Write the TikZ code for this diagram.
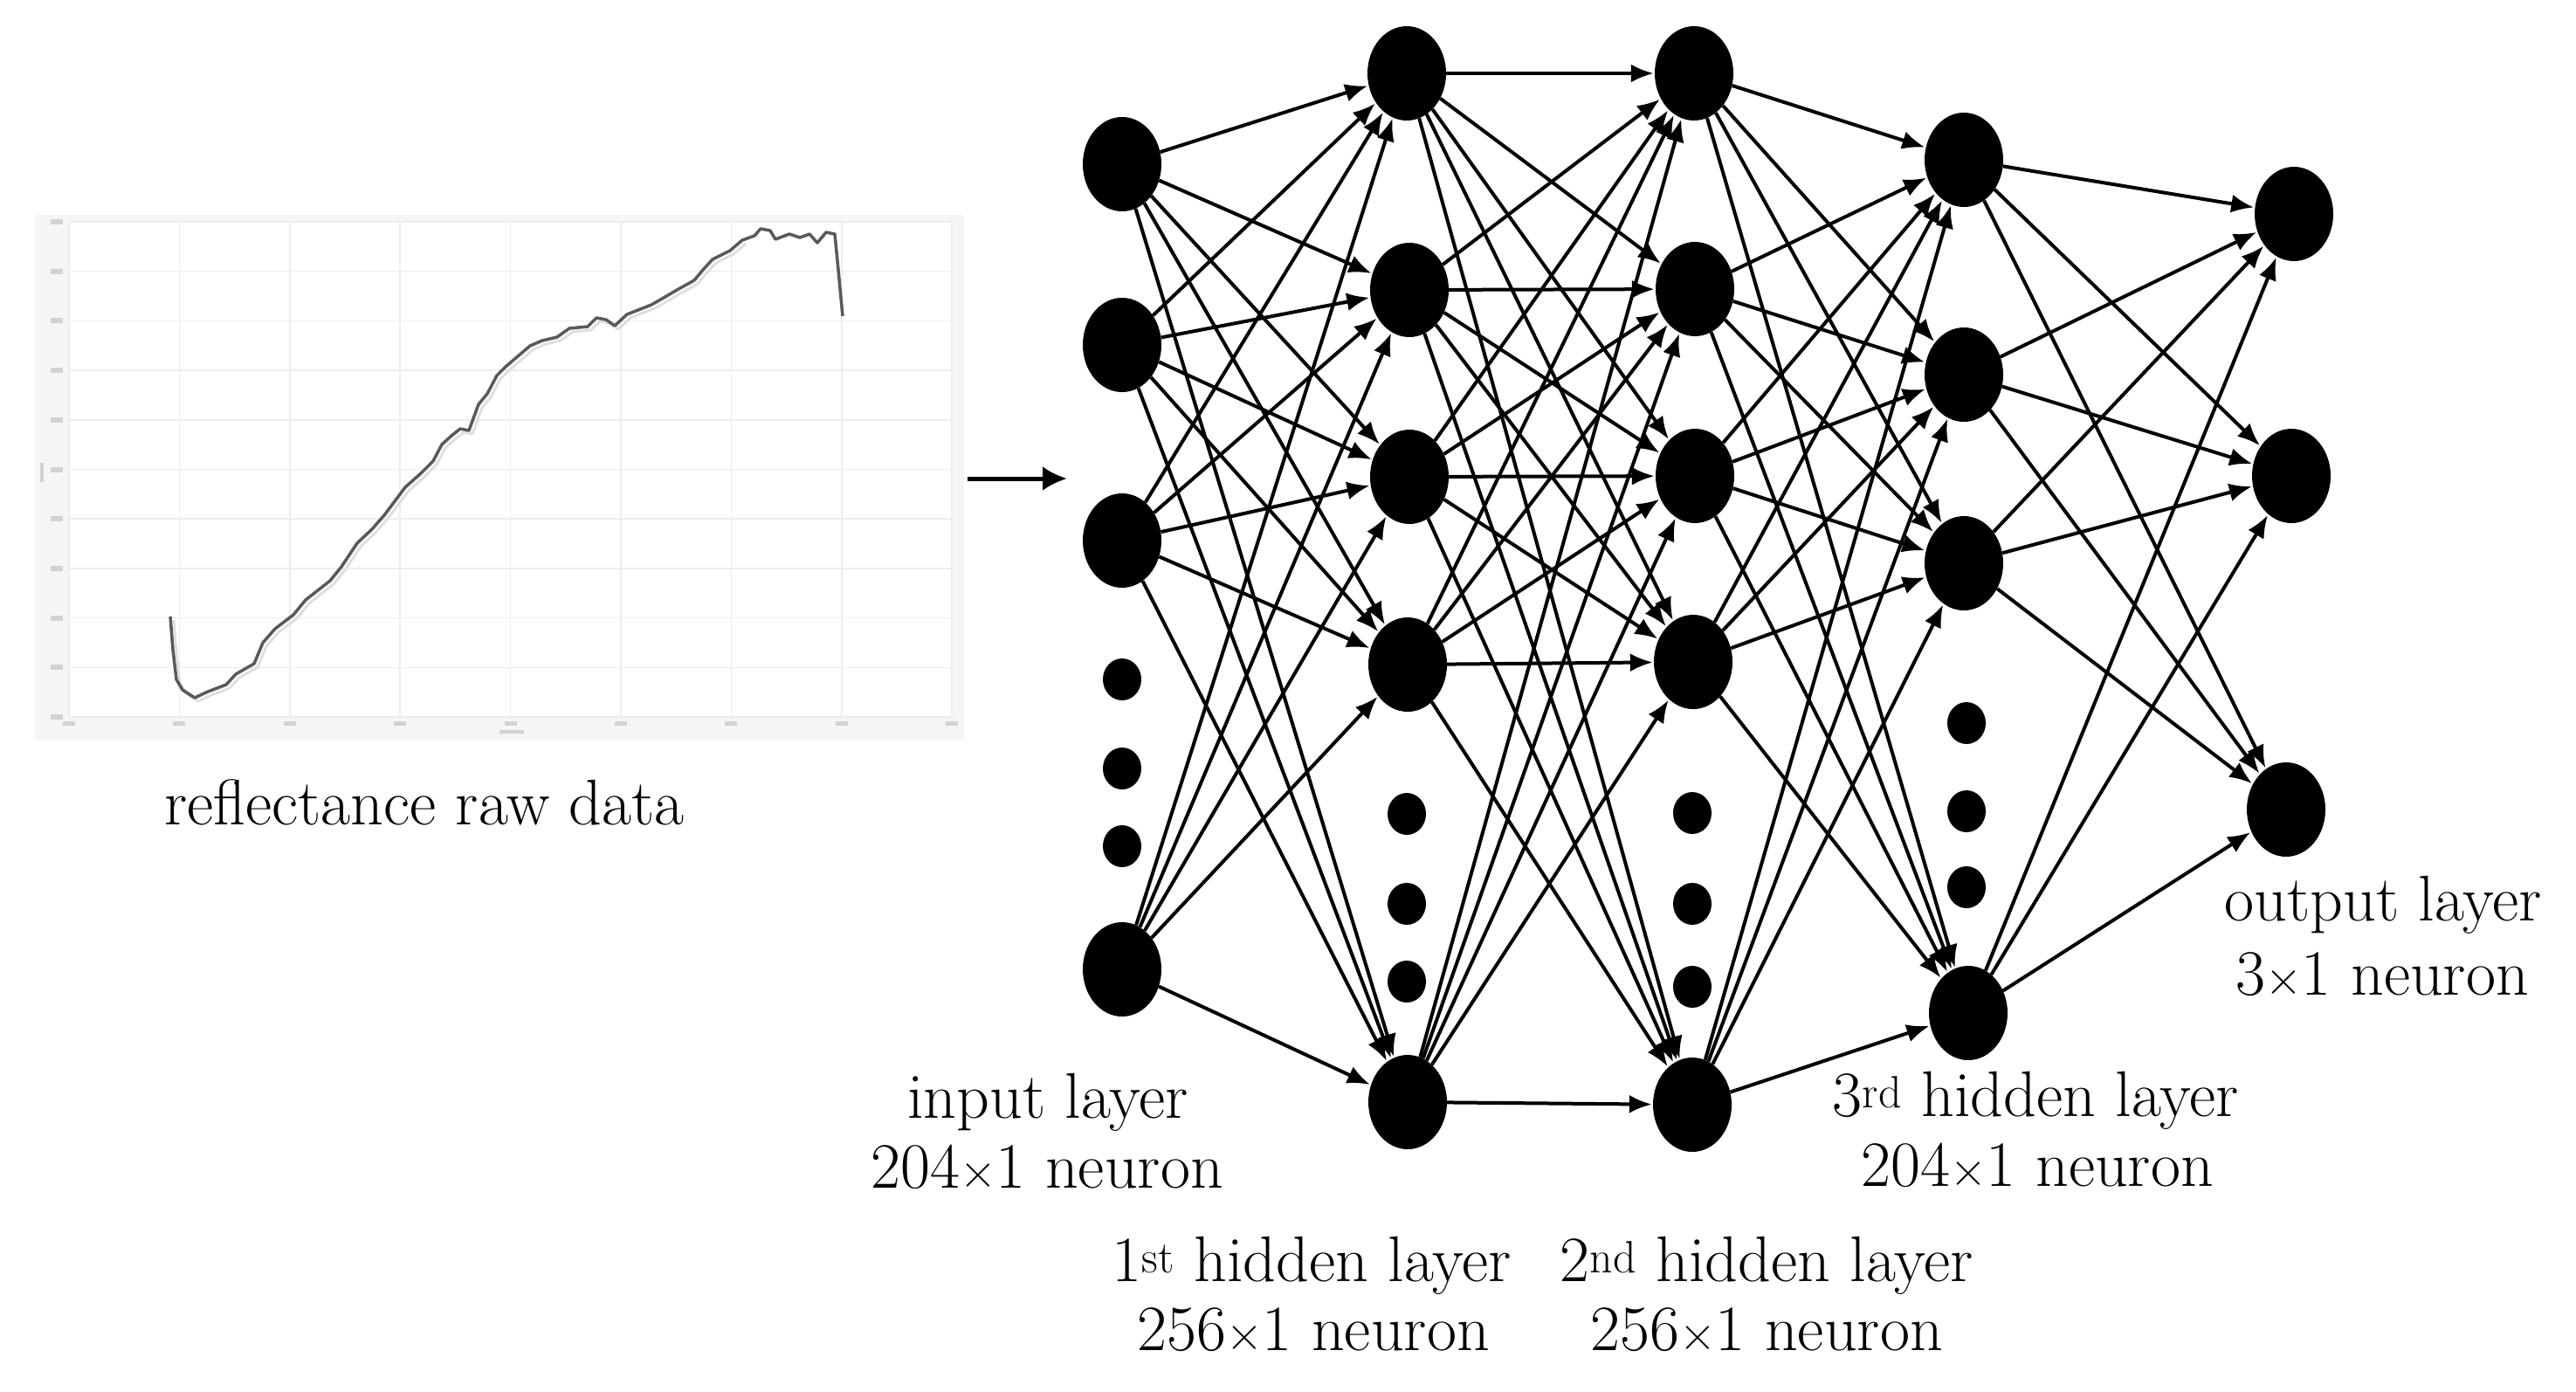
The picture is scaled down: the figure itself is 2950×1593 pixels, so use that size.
\documentclass[tikz,border=0pt]{standalone}
\usepackage{fontspec}
\usetikzlibrary{shapes.geometric,arrows.meta}
\newcommand{\tmul}{{\fontsize{58}{60}\selectfont ×}}
\tikzset{
  neuron/.style={ellipse,fill=black,draw=none,minimum width=90pt,minimum height=108pt,inner sep=0pt},
  dotn/.style={ellipse,fill=black,draw=none,minimum width=44pt,minimum height=48pt,inner sep=0pt},
  conn/.style={line width=4pt,draw=black,-{Latex[length=26pt,width=21pt]},shorten >=1pt},
  lbl/.style={font=\fontsize{74}{88}\selectfont,inner sep=0pt,anchor=base},
  grid line/.style={draw=gray!14,line width=1.5pt},
  tickblob/.style={fill=gray!35,draw=none}
}
\begin{document}
\begin{tikzpicture}[x=1pt,y=-1pt]
\useasboundingbox (0,0) rectangle (2950,1593);
\fill[white] (0,0) rectangle (2950,1593);
% ---------- spectrum plot ----------
\fill[gray!8] (40,246) rectangle (1104,847);
\fill[white] (79,254) rectangle (1090,821);
\foreach \k in {0,...,8} \draw[grid line] ({79+\k*126.4},254) -- ({79+\k*126.4},821);
\foreach \k in {0,...,10} \draw[grid line] (79,{254+\k*56.7}) -- (1090,{254+\k*56.7});
\foreach \k in {0,...,10} \fill[tickblob] (58,{251+\k*56.7}) rectangle (72,{257+\k*56.7});
\foreach \k in {0,...,8} \fill[tickblob] ({72+\k*126.4},826) rectangle ({86+\k*126.4},831);
\fill[tickblob] (46,530) rectangle (50,552);
\fill[tickblob] (572,836) rectangle (600,840);
\draw[gray!25,line width=3pt,line join=round] (199,710) -- (202,748) -- (206,782) -- (213,794) -- (227,803) -- (242,796) -- (263,788) -- (274,776) -- (295,764) -- (305,740) -- (319,724) -- (340,708) -- (354,691) -- (382,669) -- (395,653) -- (413,626) -- (430,610) -- (444,594) -- (468,562) -- (486,546) -- (500,532) -- (510,513) -- (521,503) -- (531,495) -- (541,497) -- (552,467) -- (562,455) -- (573,434) -- (583,424) -- (597,412) -- (611,400) -- (625,394) -- (642,390) -- (656,380) -- (677,378) -- (687,368) -- (698,370) -- (708,377) -- (722,364) -- (750,353) -- (764,345) -- (781,335) -- (799,325) -- (809,313) -- (820,301) -- (840,291) -- (854,279);
\draw[black!65,line width=3.5pt,line join=round] (195,706) -- (198,744) -- (202,778) -- (209,790) -- (223,799) -- (238,792) -- (259,784) -- (270,772) -- (291,760) -- (301,736) -- (315,720) -- (336,704) -- (350,687) -- (378,665) -- (391,649) -- (409,622) -- (426,606) -- (440,590) -- (464,558) -- (482,542) -- (496,528) -- (506,509) -- (517,499) -- (527,491) -- (537,493) -- (548,463) -- (558,451) -- (569,430) -- (579,420) -- (593,408) -- (607,396) -- (621,390) -- (638,386) -- (652,376) -- (673,374) -- (683,364) -- (694,366) -- (704,373) -- (718,360) -- (746,349) -- (760,341) -- (777,331) -- (795,321) -- (805,309) -- (816,297) -- (836,287) -- (850,275) -- (864,270) -- (871,262) -- (882,264) -- (888,274) -- (904,268) -- (916,272) -- (927,268) -- (936,278) -- (946,266) -- (956,268) -- (960,309) -- (965,362);
\node[lbl] (raw) at (486,944) {reflectance raw data};
% ---------- arrow plot -> network ----------
\coordinate (arS) at (1108,548);
\coordinate (arE) at (1222,548);
\draw[line width=5pt,-{Latex[length=28pt,width=28pt]}] (arS) -- (arE);
% ---------- neurons ----------
\node[neuron] (i1) at (1285,188) {};
\node[neuron] (i2) at (1285,395) {};
\node[neuron] (i3) at (1285,619) {};
\node[neuron] (i4) at (1285,1110) {};
\node[dotn] (id1) at (1285,778) {};
\node[dotn] (id2) at (1285,880) {};
\node[dotn] (id3) at (1285,969) {};
\node[neuron] (a1) at (1611,84) {};
\node[neuron] (a2) at (1614,332) {};
\node[neuron] (a3) at (1614,546) {};
\node[neuron] (a4) at (1612,761) {};
\node[neuron] (a5) at (1612,1262) {};
\node[dotn] (ad1) at (1611,932) {};
\node[dotn] (ad2) at (1611,1035) {};
\node[dotn] (ad3) at (1611,1124) {};
\node[neuron] (b1) at (1940,84) {};
\node[neuron] (b2) at (1941,331) {};
\node[neuron] (b3) at (1941,545) {};
\node[neuron] (b4) at (1939,758) {};
\node[neuron] (b5) at (1938,1265) {};
\node[dotn] (bd1) at (1938,931) {};
\node[dotn] (bd2) at (1938,1035) {};
\node[dotn] (bd3) at (1938,1130) {};
\node[neuron] (c1) at (2249,183) {};
\node[neuron] (c2) at (2249,429) {};
\node[neuron] (c3) at (2249,645) {};
\node[neuron] (c4) at (2254,1160) {};
\node[dotn] (cd1) at (2252,828) {};
\node[dotn] (cd2) at (2252,929) {};
\node[dotn] (cd3) at (2252,1016) {};
\node[neuron] (o1) at (2627,245) {};
\node[neuron] (o2) at (2624,545) {};
\node[neuron] (o3) at (2618,927) {};
% ---------- connections ----------
\foreach \s in {i1,i2,i3,i4} \foreach \t in {a1,a2,a3,a4,a5} \draw[conn] (\s) -- (\t);
\foreach \s in {a1,a2,a3,a4,a5} \foreach \t in {b1,b2,b3,b4,b5} \draw[conn] (\s) -- (\t);
\foreach \s in {b1,b2,b3,b4,b5} \foreach \t in {c1,c2,c3,c4} \draw[conn] (\s) -- (\t);
\foreach \s in {c1,c2,c3,c4} \foreach \t in {o1,o2,o3} \draw[conn] (\s) -- (\t);
% ---------- labels ----------
\node[lbl] (l0a) at (1200,1280) {input layer};
\node[lbl] (l0b) at (1199,1360) {204\tmul1 neuron};
\node[lbl] (l1a) at (1502,1467) {1\textsuperscript{st} hidden layer};
\node[lbl] (l1b) at (1504,1546) {256\tmul1 neuron};
\node[lbl] (l2a) at (2023,1467) {2\textsuperscript{nd} hidden layer};
\node[lbl] (l2b) at (2023,1546) {256\tmul1 neuron};
\node[lbl] (l3a) at (2331,1278) {3\textsuperscript{rd} hidden layer};
\node[lbl] (l3b) at (2333,1358) {204\tmul1 neuron};
\node[lbl] (l4a) at (2729,1054) {output layer};
\node[lbl] (l4b) at (2728,1139) {3\tmul1 neuron};
\end{tikzpicture}
\end{document}
